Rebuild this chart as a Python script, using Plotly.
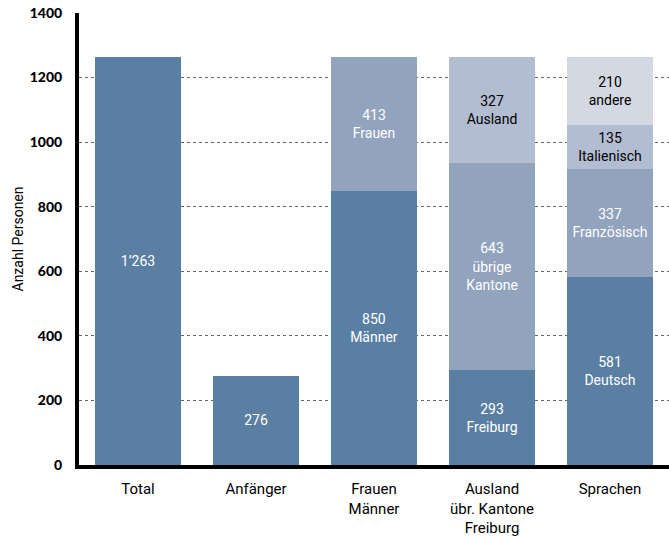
import plotly.graph_objects as go

# ── Data ──────────────────────────────────────────────────────────────────────
categories = ["Total", "Anfänger", "Frauen<br>Männer",
              "Ausland<br>übr. Kantone<br>Freiburg", "Sprachen"]

total_werte = [1263]
total_namen = [""]
total_text = ["1’263"]

anfaenger_werte = [276]
anfaenger_namen = [""]

geschlecht_werte = [850, 413]
geschlecht_namen = ["Männer", "Frauen"]

herkunft_werte = [293, 643, 327]
herkunft_namen = ["Freiburg", "übrige<br>Kantone", "Ausland"]

sprachen_werte = [581, 337, 135, 210]
sprachen_namen = ["Deutsch", "Französisch", "Italienisch", "andere"]

y_ticks = [0, 200, 400, 600, 800, 1000, 1200, 1400]

# ── Styles ────────────────────────────────────────────────────────────────────
SHADES = ["#5a7fa3", "#92a3bd", "#b3bdd1", "#d3d8e3"]
TEXT_COL = ["white", "white", "black", "black"]
FONT = "Roboto"

# (category, values, names, shade index per segment)
stacks = [
    (categories[0], total_werte, total_namen, [0]),
    (categories[1], anfaenger_werte, anfaenger_namen, [0]),
    (categories[2], geschlecht_werte, geschlecht_namen, [0, 1]),
    (categories[3], herkunft_werte, herkunft_namen, [0, 1, 2]),
    (categories[4], sprachen_werte, sprachen_namen, [0, 1, 2, 3]),
]

fig = go.Figure()
for cat, vals, names, shades in stacks:
    for v, n, s in zip(vals, names, shades):
        if cat == "Total":
            label = total_text[0]
        elif n:
            label = f"{v}<br>{n}"
        else:
            label = str(v)
        fig.add_trace(go.Bar(
            x=[cat], y=[v],
            marker=dict(color=SHADES[s], line=dict(width=0)),
            text=[label],
            textposition="inside",
            insidetextanchor="middle",
            textangle=0,
            textfont=dict(family=FONT, size=14, color=TEXT_COL[s]),
            hoverinfo="skip",
            showlegend=False,
        ))

fig.update_layout(
    barmode="stack",
    bargap=0.27,
    width=669, height=538,
    margin=dict(l=79, r=0, t=13, b=73, autoexpand=False),
    plot_bgcolor="white",
    paper_bgcolor="white",
    font=dict(family=FONT, color="black"),
    uniformtext=dict(minsize=14, mode="show"),
)

fig.update_xaxes(
    categoryorder="array", categoryarray=categories,
    range=[-0.5, 4.5], automargin=False,
    showline=True, linewidth=4, linecolor="black",
    tickfont=dict(family=FONT, size=15, color="black"),
    ticks="", showgrid=False, ticklabelstandoff=7,
)

fig.update_yaxes(
    range=[0, 1400], automargin=False,
    tickvals=y_ticks,
    showline=True, linewidth=4, linecolor="black",
    showgrid=True, gridcolor="#666", gridwidth=1, griddash="dot",
    zeroline=False,
    tickfont=dict(family="Lato", size=14, color="black", weight=900),
    ticks="", ticklabelstandoff=10,
    title=dict(text="Anzahl Personen", font=dict(family=FONT, size=14, color="black"),
               standoff=4),
)

# page body has a default 8px margin; drop it so the figure sits at the window corner
fig.write_html("out.html", config={"displayModeBar": False},
               post_script="document.body.style.margin='0';")
